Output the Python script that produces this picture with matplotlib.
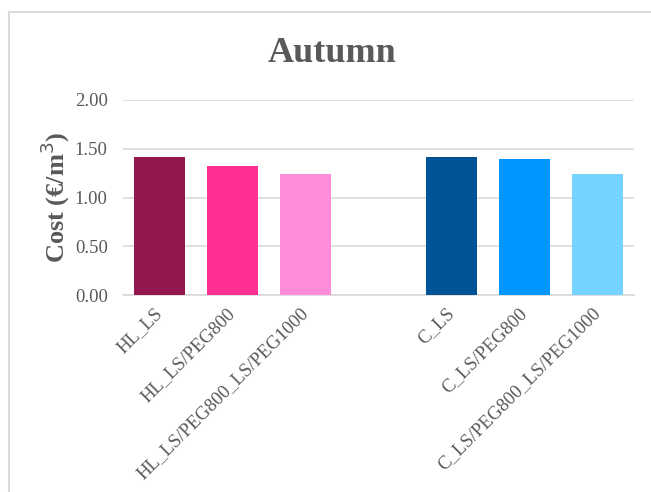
import matplotlib
matplotlib.use("Agg")
import matplotlib.pyplot as plt
from matplotlib.lines import Line2D
from matplotlib.transforms import ScaledTranslation

# Data
categories = ["HL_LS", "HL_LS/PEG800", "HL_LS/PEG800_LS/PEG1000", "",
              "C_LS", "C_LS/PEG800", "C_LS/PEG800_LS/PEG1000"]
costs = [1.42, 1.32, 1.24, None, 1.42, 1.40, 1.24]
bar_colors = ["#95174F", "#FF3094", "#FF8DDA", None,
              "#005496", "#0096FF", "#75D3FF"]
y_ticks = [0.0, 0.5, 1.0, 1.5, 2.0]

TEXT = "#595959"
GRID = "#D9D9D9"

plt.rcParams["font.family"] = ["Liberation Serif", "DejaVu Serif"]

W, H = 651, 492
fig = plt.figure(figsize=(W / 100, H / 100), dpi=100)
ax = fig.add_axes([123 / W, 1 - 295 / H, (634 - 123) / W, (295 - 100) / H])

xs = [i for i, v in enumerate(costs) if v is not None]
vals = [v for v in costs if v is not None]
cols = [c for c in bar_colors if c is not None]
ax.bar(xs, vals, width=0.70, color=cols, zorder=3)

ax.set_xlim(-0.5, len(categories) - 0.5)
ax.set_ylim(0, 2.0)
ax.set_yticks(y_ticks)
ax.set_yticklabels([f"{t:.2f}" for t in y_ticks], fontsize=13.5, color=TEXT)
ax.yaxis.grid(True, color=GRID, linewidth=1.2, zorder=0)
ax.set_axisbelow(True)
ax.tick_params(axis="both", length=0)
ax.tick_params(axis="y", pad=11)
for s in ["top", "right", "left"]:
    ax.spines[s].set_visible(False)
ax.spines["bottom"].set_color(GRID)
ax.spines["bottom"].set_linewidth(1.2)

ax.set_xticks(range(len(categories)))
ax.set_xticklabels(categories, rotation=45, ha="right", va="top",
                   rotation_mode="anchor", fontsize=13.5, color=TEXT)
ax.tick_params(axis="x", pad=7)
shift = ScaledTranslation(-6 / 100, 0, fig.dpi_scale_trans)
for lbl in ax.get_xticklabels():
    lbl.set_transform(lbl.get_transform() + shift)

ax.set_ylabel("Cost (€/m$^3$)", fontsize=19, fontweight="bold", color=TEXT,
              labelpad=2)
fig.text(332 / W, 1 - 53 / H, "Autumn", ha="center", va="center",
         fontsize=26, fontweight="bold", color=TEXT)

# Chart-area border (left and top edges)
fig.add_artist(Line2D([9 / W, 9 / W], [0, 1 - 12 / H], transform=fig.transFigure,
                      color=GRID, linewidth=1.5))
fig.add_artist(Line2D([9 / W, 1], [1 - 12 / H, 1 - 12 / H], transform=fig.transFigure,
                      color=GRID, linewidth=1.5))

fig.savefig("out.png", dpi=100)
